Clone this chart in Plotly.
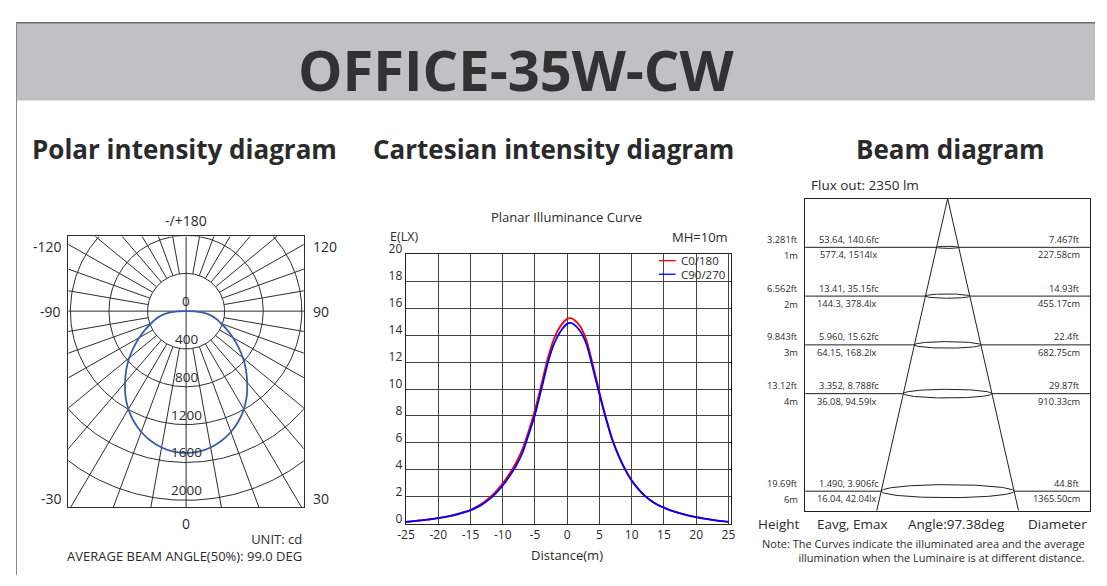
import numpy as np
import plotly.graph_objects as go

# Screenshot target size and page offset (default 8px body margin)
SW, SH = 1107, 586
OFF = 8
W, H = SW - 2 * OFF, SH - 2 * OFF
TXT = "#2b2a2b"
FONT = "Open Sans"

# ---------------- data ----------------
# Polar intensity (cd) vs angle from nadir (deg), symmetric
polar_angles = [0, 5, 10, 15, 20, 25, 30, 35, 40, 45, 50, 55, 60, 65, 70, 75, 80, 85, 90]
polar_cd = [1500, 1491, 1464, 1419, 1360, 1285, 1197, 1097, 985, 878, 770, 660, 560, 470, 390, 325,
            260, 165, 0]
polar_rings = [400, 800, 1200, 1600, 2000]
polar_ring_labels = ["0", "400", "800", "1200", "1600", "2000"]
polar_spoke_step = 10

# Planar illuminance curve (MH = 10 m)
distance = [-25, -24, -23, -22, -21, -20, -19, -18, -17, -16, -15, -14, -13, -12, -11, -10,
            -9, -8, -7, -6, -5, -4, -3, -2, -1, 0, 0.5, 1, 2, 3, 4, 5, 6, 7, 8, 9, 10,
            11, 12, 13, 14, 15, 16, 17, 18, 19, 20, 21, 22, 23, 24, 25]
e_c0_180 = [0.15, 0.2, 0.25, 0.3, 0.36, 0.44, 0.52, 0.62, 0.74, 0.89, 1.05, 1.28, 1.58, 1.96, 2.43, 3.0,
            3.68, 4.48, 5.48, 6.85, 8.45, 10.35, 12.3, 13.8, 14.7, 15.2, 15.25, 15.15, 14.65, 13.6, 11.75, 9.75,
            7.9, 6.28, 5.05, 4.03, 3.22, 2.6, 2.1, 1.72, 1.42, 1.2, 1.0, 0.85, 0.72, 0.6, 0.5, 0.41, 0.33,
            0.26, 0.2, 0.15]
e_c90_270 = [0.14, 0.19, 0.24, 0.29, 0.35, 0.42, 0.5, 0.6, 0.71, 0.85, 1.0, 1.22, 1.5, 1.85, 2.3, 2.85,
             3.5, 4.25, 5.2, 6.6, 8.1, 10.0, 11.95, 13.4, 14.3, 14.85, 14.9, 14.8, 14.3, 13.3, 11.5, 9.6,
             7.8, 6.2, 5.0, 4.0, 3.2, 2.6, 2.1, 1.72, 1.42, 1.2, 1.0, 0.85, 0.72, 0.6, 0.5, 0.41, 0.33,
             0.26, 0.2, 0.15]
x_ticks = [-25, -20, -15, -10, -5, 0, 5, 10, 15, 20, 25]
y_ticks = [0, 2, 4, 6, 8, 10, 12, 14, 16, 18, 20]

# Beam diagram
beam_heights = [1, 2, 3, 4, 6]
beam_height_ft = ["3.281ft", "6.562ft", "9.843ft", "13.12ft", "19.69ft"]
beam_height_m = ["1m", "2m", "3m", "4m", "6m"]
beam_fc = ["53.64, 140.6fc", "13.41, 35.15fc", "5.960, 15.62fc", "3.352, 8.788fc", "1.490, 3.906fc"]
beam_lx = ["577.4, 1514lx", "144.3, 378.4lx", "64.15, 168.2lx", "36.08, 94.59lx", "16.04, 42.04lx"]
beam_diam_ft = ["7.467ft", "14.93ft", "22.4ft", "29.87ft", "44.8ft"]
beam_diam_cm = [227.58, 455.17, 682.75, 910.33, 1365.50]
beam_angle = 97.38
flux_out = 2350

# ---------------- helpers (screen px -> paper) ----------------
def px(x):
    return (x - OFF) / W

def py(y):
    return 1 - (y - OFF) / H

annotations = []
shapes = []

def ann(text, x, y, size, xanchor="center", color=TXT, bold=False, yanchor="middle", **kw):
    d = dict(xref="paper", yref="paper", x=px(x), y=py(y), text=text, showarrow=False,
             xanchor=xanchor, yanchor=yanchor,
             font=dict(family=FONT, size=size, color=color, weight=700 if bold else 400))
    d.update(kw)
    annotations.append(d)

fig = go.Figure()

# ---------------- header ----------------
shapes.append(dict(type="rect", xref="paper", yref="paper", x0=0, x1=1, y0=py(89), y1=py(9),
                   fillcolor="#c0c1c4", line=dict(width=0), layer="below"))
shapes.append(dict(type="line", xref="paper", yref="paper", x0=0, x1=1, y0=py(8.7), y1=py(8.7),
                   line=dict(color="#6d6e71", width=1.5)))
shapes.append(dict(type="line", xref="paper", yref="paper", x0=px(8.5), x1=px(8.5), y0=0, y1=py(8.5),
                   line=dict(color="#8a8a8a", width=1)))
ann("OFFICE-35W-CW", 514, 56, 56, bold=True, color="#333132")
ann("Polar intensity diagram", 178.5, 139, 26, bold=True)
ann("Cartesian intensity diagram", 551, 139, 26, bold=True)
ann("Beam diagram", 953, 139, 26, bold=True)

# ---------------- polar (drawn on cartesian axes xaxis/yaxis) ----------------
grid_x, grid_y = [], []
t = np.radians(np.arange(0, 361, 1))
for r in polar_rings:
    grid_x += list(r * np.sin(t)) + [None]
    grid_y += list(r * np.cos(t)) + [None]
for a in range(0, 360, polar_spoke_step):
    ar = np.radians(a)
    r0 = 0 if a % 90 == 0 else polar_rings[0]
    grid_x += [r0 * np.sin(ar), 5000 * np.sin(ar), None]
    grid_y += [r0 * np.cos(ar), 5000 * np.cos(ar), None]
fig.add_trace(go.Scatter(x=grid_x, y=grid_y, mode="lines", line=dict(color="#2d2d2d", width=1),
                         hoverinfo="skip", showlegend=False, xaxis="x", yaxis="y"))

ang = np.array([-a for a in polar_angles[::-1]] + polar_angles[1:], dtype=float)
cd = np.array(polar_cd[::-1] + polar_cd[1:], dtype=float)
fig.add_trace(go.Scatter(x=cd * np.sin(np.radians(ang)), y=-cd * np.cos(np.radians(ang)),
                         mode="lines", line=dict(color="#3a5cad", width=1.8, shape="spline", smoothing=1.0),
                         hoverinfo="skip", showlegend=False, xaxis="x", yaxis="y"))

ring_vals = [0] + polar_rings
for val, lab in zip(ring_vals, polar_ring_labels):
    annotations.append(dict(xref="x", yref="y", x=0, y=-val, text=lab, showarrow=False,
                            xanchor="center", yanchor="bottom", yshift=-1,
                            font=dict(family=FONT, size=13.5, color=TXT)))

ann("-/+180", 180, 213, 14)
ann("-120", 40, 239, 14)
ann("120", 320, 239, 14)
ann("-90", 43, 306, 14)
ann("90", 316, 306, 14)
ann("-30", 44, 499, 14)
ann("30", 316, 499, 14)
ann("0", 180, 525, 14)
ann("UNIT: cd<br>AVERAGE BEAM ANGLE(50%): 99.0 DEG", 299, 549.5, 13, xanchor="right", align="right")

# ---------------- cartesian illuminance ----------------
fig.add_trace(go.Scatter(x=distance, y=e_c0_180, mode="lines", name="C0/180",
                         line=dict(color="#ff0000", width=1.8, shape="spline", smoothing=0.6),
                         showlegend=False, xaxis="x2", yaxis="y2"))
fig.add_trace(go.Scatter(x=distance, y=e_c90_270, mode="lines", name="C90/270",
                         line=dict(color="#0000ff", width=1.8, shape="spline", smoothing=0.6),
                         showlegend=False, xaxis="x2", yaxis="y2"))

ann("Planar Illuminance Curve", 565, 209, 13)
ann("E(LX)", 384, 229, 12.5, xanchor="left")
ann("MH=10m", 730, 229.5, 13, xanchor="right")
ann("Distance(m)", 565, 557.5, 13)
# legend
shapes.append(dict(type="line", xref="paper", yref="paper", x0=px(658), x1=px(675), y0=py(254), y1=py(254),
                   line=dict(color="#ff0000", width=1.3)))
shapes.append(dict(type="line", xref="paper", yref="paper", x0=px(658), x1=px(675), y0=py(268), y1=py(268),
                   line=dict(color="#0000ff", width=1.3)))
ann("C0/180", 678, 254, 11.5, xanchor="left")
ann("C90/270", 678, 268, 11.5, xanchor="left")

# ---------------- beam diagram ----------------
bx_half = 14.63
by_max = 6.4
xpx_per_m = (1094 - 806) / (2 * bx_half)
ypx_per_m = (511.7 - 190) / by_max
half_tan = np.tan(np.radians(beam_angle / 2))
bxs, bys = [], []
for s in (-1, 1):
    bxs += [0, s * half_tan * by_max, None]
    bys += [0, by_max, None]
te = np.radians(np.arange(0, 361, 3))
for h, dcm in zip(beam_heights, beam_diam_cm):
    r = dcm / 200.0
    bxs += [-bx_half - 1, -r, None, r, bx_half + 1, None]
    bys += [h, h, None, h, h, None]
    ry = 0.1 * r * xpx_per_m / ypx_per_m
    bxs += list(r * np.cos(te)) + [None]
    bys += list(h + ry * np.sin(te)) + [None]
fig.add_trace(go.Scatter(x=bxs, y=bys, mode="lines", line=dict(color="#231f20", width=1),
                         hoverinfo="skip", showlegend=False, xaxis="x3", yaxis="y3"))

def bann(text, x, h, shift, xanchor, size=9.3):
    annotations.append(dict(xref="paper", yref="y3", x=px(x), y=h, text=text, showarrow=False,
                            xanchor=xanchor, yanchor="middle", yshift=shift,
                            font=dict(family=FONT, size=size, color=TXT)))

for h, ft, m, fc, lx, dft, dcm in zip(beam_heights, beam_height_ft, beam_height_m, beam_fc, beam_lx,
                                       beam_diam_ft, beam_diam_cm):
    bann(ft, 801, h, 8, "right")
    bann(m, 801, h, -8, "right")
    bann(fc, 818, h, 8, "left")
    bann(lx, 881, h, -7.5, "right")
    bann(dft, 1086, h, 8, "right")
    bann(f"{dcm:.2f}cm", 1086, h, -7.5, "right")

ann(f"Flux out: {flux_out} lm", 810, 176, 13.5, xanchor="left")
ann("Height", 779.5, 525.5, 13.5)
ann("Eavg, Emax", 854, 525.5, 13.5)
ann(f"Angle:{beam_angle:.2f}deg", 959, 525.5, 13.5)
ann("Diameter", 1061, 525.5, 13.5)
ann("Note: The Curves indicate the illuminated area and the average<br>"
    "illumination when the Luminaire is at different distance.",
    1091, 553, 11, xanchor="right", align="right")

# ---------------- layout ----------------
hidden = dict(showgrid=False, zeroline=False, showticklabels=False, ticks="")
fig.update_layout(
    width=W, height=H, margin=dict(l=0, r=0, t=0, b=0),
    paper_bgcolor="white", plot_bgcolor="white", showlegend=False,
    font=dict(family=FONT, color=TXT),
    xaxis=dict(domain=[px(61), px(299)], range=[-1220.5, 1220.5], showline=True, mirror=True,
               linecolor="#2d2d2d", linewidth=1, **hidden),
    yaxis=dict(domain=[py(508), py(229)], range=[-2072, 790], showline=True, mirror=True,
               linecolor="#2d2d2d", linewidth=1, **hidden),
    xaxis2=dict(domain=[px(402), px(731)], range=[-25.05, 25.4], tickvals=x_ticks,
                ticktext=[str(v) for v in x_ticks], showgrid=True, gridcolor="#444444", gridwidth=1,
                zeroline=False, showline=True, mirror=True, linecolor="#222222", linewidth=1,
                ticks="", tickfont=dict(family=FONT, size=12, color=TXT), anchor="y2"),
    yaxis2=dict(domain=[py(525.3), py(247.3)], range=[0, 20], tickvals=y_ticks,
                showgrid=True, gridcolor="#444444", gridwidth=1, zeroline=False,
                showline=True, mirror=True, linecolor="#222222", linewidth=1, ticklabelshift=-5,
                ticks="", tickfont=dict(family=FONT, size=12, color=TXT), anchor="x2"),
    xaxis3=dict(domain=[px(806), px(1094)], range=[-bx_half, bx_half], showline=True, mirror=True,
                linecolor="#231f20", linewidth=1, anchor="y3", **hidden),
    yaxis3=dict(domain=[py(511.7), py(190)], range=[by_max, 0], showline=True, mirror=True,
                linecolor="#231f20", linewidth=1, anchor="x3", **hidden),
    annotations=annotations, shapes=shapes,
)

fig.write_html("out.html", config={"displayModeBar": False})
